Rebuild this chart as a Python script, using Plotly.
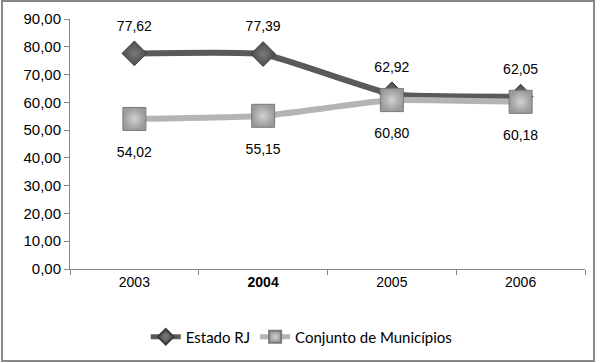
import plotly.graph_objects as go

years = ["2003", "2004", "2005", "2006"]
year_labels = ["2003", "<b>2004</b>", "2005", "2006"]
estado_rj = [77.62, 77.39, 62.92, 62.05]
conjunto = [54.02, 55.15, 60.80, 60.18]
y_ticks = [0, 10, 20, 30, 40, 50, 60, 70, 80, 90]

W, H = 603, 363
L, R, T, B = 70, 18, 19, 94
pw, ph = W - L - R, H - T - B
label_font = dict(family="Liberation Sans", size=14, color="#000")

fig = go.Figure()
fig.add_trace(go.Scatter(
    x=years, y=estado_rj, name="Estado RJ", mode="lines+markers",
    line=dict(color="#5a5a5a", width=6, shape="spline", smoothing=0.35),
    marker=dict(symbol="diamond", size=19, color="#4a4a4a",
                gradient=dict(type="radial", color="#7a7a7a"),
                line=dict(color="#3c3c3c", width=1)),
))
fig.add_trace(go.Scatter(
    x=years, y=conjunto, name="Conjunto de Municípios", mode="lines+markers",
    line=dict(color="#b4b4b4", width=6, shape="spline", smoothing=0.35),
    marker=dict(symbol="square", size=23, color="#9a9a9a",
                gradient=dict(type="radial", color="#d0d0d0"),
                line=dict(color="#7a7a7a", width=1)),
))
# data labels (invisible markers only set the label offset)
fig.add_trace(go.Scatter(
    x=years, y=estado_rj, mode="markers+text", showlegend=False, hoverinfo="skip",
    marker=dict(size=29, opacity=0), texttemplate="%{y:.2f}", textposition="top center",
    textfont=label_font,
))
fig.add_trace(go.Scatter(
    x=years, y=conjunto, mode="markers+text", showlegend=False, hoverinfo="skip",
    marker=dict(size=43, opacity=0), texttemplate="%{y:.2f}", textposition="bottom center",
    textfont=label_font,
))

def px_to_paper(x, y):
    return (x - L) / pw, (H - B - y) / ph

x0, y0 = px_to_paper(2, 361)
x1, y1 = px_to_paper(594, 1)

fig.update_layout(
    width=W, height=H,
    margin=dict(l=L, r=R, t=T, b=B, autoexpand=False),
    paper_bgcolor="white", plot_bgcolor="white",
    separators=",.",
    showlegend=True,
    legend=dict(orientation="h", x=0.45, xanchor="center", y=-0.272, yanchor="middle",
                font=dict(family="Lato", size=15, color="#000"), itemsizing="constant",
                itemwidth=30, tracegroupgap=0),
    xaxis=dict(type="category", range=[-0.5, 3.5], tickvals=years, ticktext=year_labels,
               tickson="boundaries", ticks="outside", ticklen=5, tickcolor="#888",
               showline=True, linecolor="#888", linewidth=1, showgrid=False,
               tickfont=dict(family="Liberation Sans", size=14, color="#000")),
    yaxis=dict(range=[0, 90], tickvals=y_ticks, tickformat=".2f",
               ticks="outside", ticklen=5, tickcolor="#888",
               showline=True, linecolor="#888", linewidth=1, showgrid=False, zeroline=False,
               tickfont=dict(family="Liberation Sans", size=15, color="#000")),
    shapes=[dict(type="rect", xref="paper", yref="paper", x0=x0, y0=y0, x1=x1, y1=y1,
                 line=dict(color="#888", width=2), layer="below")],
)

fig.write_html("out.html", config={"displayModeBar": False},
               post_script="document.body.style.margin='0';document.body.style.overflow='hidden';")
